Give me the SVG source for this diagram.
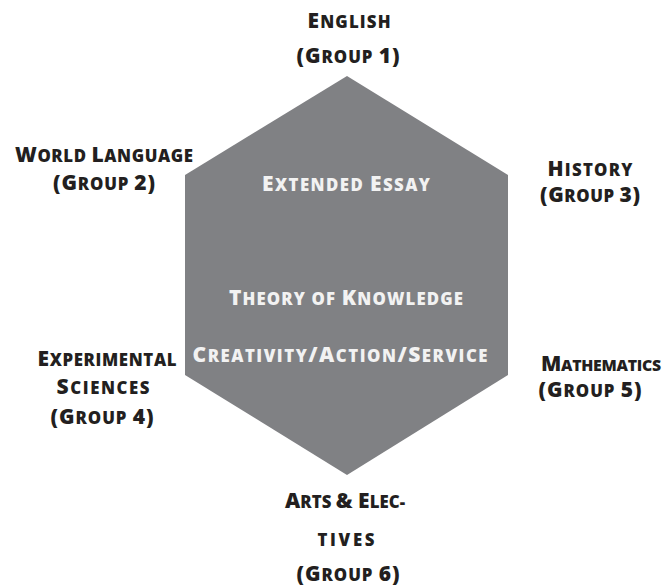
<svg xmlns="http://www.w3.org/2000/svg" width="664" height="586" viewBox="0 0 664 586">
<style>
text{font-family:"Open Sans","Liberation Sans",sans-serif;font-weight:800;font-size:16.8px;text-transform:uppercase;text-anchor:middle}
.l{fill:#231f20}
.w{fill:#f2f2f2}
.b{font-size:21px}
.n{font-size:15.8px}
</style>
<rect width="664" height="586" fill="#fff"/>
<g id="hexagon">
<polygon points="347,76 508,175 508,375 347,475 185,375 185,175" fill="#808184"/>
<text class="w" x="346" y="191" textLength="168"><tspan class="b">E</tspan>xtended <tspan class="b">E</tspan>ssay</text>
<text class="w" x="346" y="305" textLength="234"><tspan class="b">T</tspan>heory of <tspan class="b">K</tspan>nowledge</text>
<text class="w" x="340" y="362" textLength="295"><tspan class="b">C</tspan>reativity<tspan class="b">/A</tspan>ction<tspan class="b">/S</tspan>ervice</text>
</g>
<g id="group1"><text class="l" x="349" y="28" textLength="83"><tspan class="b">E</tspan>nglish</text><text class="l" x="348" y="63" textLength="103"><tspan class="b">(G</tspan>roup <tspan class="b">1)</tspan></text></g>
<g id="group2"><text class="l" x="104" y="162" textLength="178"><tspan class="b">W</tspan>orld <tspan class="b">L</tspan>anguage</text><text class="l" x="104" y="190" textLength="102"><tspan class="b">(G</tspan>roup <tspan class="b">2)</tspan></text></g>
<g id="group3"><text class="l" x="590" y="176" textLength="85"><tspan class="b">H</tspan>istory</text><text class="l" x="590" y="202" textLength="100"><tspan class="b">(G</tspan>roup <tspan class="b">3)</tspan></text></g>
<g id="group4"><text class="l" x="107" y="366" textLength="139"><tspan class="b">E</tspan>xperimental</text><text class="l" x="103" y="394" textLength="93"><tspan class="b">S</tspan>ciences</text><text class="l" x="102" y="424" textLength="103"><tspan class="b">(G</tspan>roup <tspan class="b">4)</tspan></text></g>
<g id="group5"><text class="l n" x="601" y="371" textLength="120"><tspan class="b">M</tspan>athematics</text><text class="l" x="590" y="397" textLength="103"><tspan class="b">(G</tspan>roup <tspan class="b">5)</tspan></text></g>
<g id="group6"><text class="l" x="345" y="508" textLength="120"><tspan class="b">A</tspan>rts <tspan class="b">&amp; E</tspan>lec-</text><text class="l" x="346" y="546" textLength="57">tives</text><text class="l" x="348" y="581" textLength="103"><tspan class="b">(G</tspan>roup <tspan class="b">6)</tspan></text></g>
<g id="connectors"></g>
</svg>
